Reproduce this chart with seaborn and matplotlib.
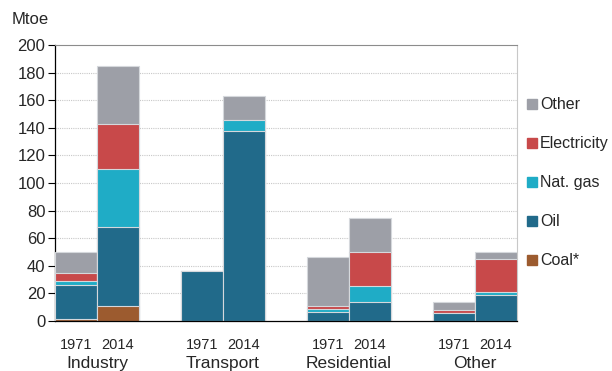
import matplotlib
matplotlib.use("Agg")
import matplotlib.pyplot as plt
from matplotlib.lines import Line2D
import numpy as np
import pandas as pd
import seaborn as sns

# Final energy consumption by sector and fuel (Mtoe)
sectors = ["Industry", "Transport", "Residential", "Other"]
years = ["1971", "2014"]
positions = [0, 1, 3, 4, 6, 7, 9, 10]

coal        = [1.2, 10.9, 0.0, 0.0, 0.0, 0.0, 0.0, 0.0]
oil         = [24.6, 57.4, 36.5, 138.0, 6.8, 14.0, 5.8, 18.6]
nat_gas     = [3.4, 41.7, 0.0, 7.7, 1.7, 11.4, 0.0, 2.4]
electricity = [5.3, 33.0, 0.0, 0.0, 2.6, 24.8, 2.4, 23.7]
other       = [15.5, 41.8, 0.0, 17.3, 35.1, 24.4, 5.8, 5.5]

fuel_names = ["Coal*", "Oil", "Nat. gas", "Electricity", "Other"]
fuel_values = [coal, oil, nat_gas, electricity, other]
fuel_colors = ["#9C5B2F", "#216A8A", "#1FACC6", "#C8494A", "#9D9FA7"]

sns.set_theme(style="white")
plt.rcParams["font.family"] = ["Liberation Sans", "DejaVu Sans"]

fig = plt.figure(figsize=(6.12, 3.71), dpi=100)
ax = fig.add_axes([55 / 612, 50 / 371, 462 / 612, 276 / 371])

# Stack by drawing cumulative totals, tallest first
cum = np.cumsum(np.array(fuel_values), axis=0)
for i in range(len(fuel_names) - 1, -1, -1):
    df = pd.DataFrame({"pos": positions, "value": cum[i]})
    sns.barplot(data=df, x="pos", y="value", native_scale=True, width=1.0,
                color=fuel_colors[i], saturation=1, edgecolor="#D5D8DC",
                linewidth=0.8, ax=ax, zorder=3, errorbar=None)

ax.set_xlim(-0.5, 10.5)
ax.set_ylim(0, 200)
ax.set_yticks(np.arange(0, 201, 20))
ax.tick_params(axis="y", labelsize=12, length=5, width=0.8, color="black",
               direction="out", pad=2, left=True)
ax.set_xticks(positions)
ax.set_xticklabels(years * 4, fontsize=10.5)
ax.tick_params(axis="x", length=0, pad=12)
ax.set_xlabel("")
ax.set_ylabel("")

for y in range(20, 200, 20):
    ax.axhline(y, color="#C8C8C8", linewidth=0.8, linestyle=(0, (1, 1)), zorder=1)

for name, sp in ax.spines.items():
    sp.set_visible(True)
ax.spines["left"].set_color("black")
ax.spines["bottom"].set_color("black")
ax.spines["left"].set_linewidth(0.9)
ax.spines["bottom"].set_linewidth(0.9)
ax.spines["top"].set_color("#8C8C8C")
ax.spines["top"].set_linewidth(0.8)
ax.spines["right"].set_color("#C8C8C8")
ax.spines["right"].set_linewidth(0.8)
ax.spines["bottom"].set_zorder(5)

for k, s in enumerate(sectors):
    ax.text(positions[2 * k] + 0.5, -30.5, s, ha="center", va="center",
            fontsize=12.5)

fig.text(12 / 612, 1 - 20 / 371, "Mtoe", ha="left", va="center", fontsize=12)

handles = [Line2D([], [], marker="s", linestyle="none", markersize=7,
                  markerfacecolor=c, markeredgecolor=c)
           for c in fuel_colors[::-1]]
leg = fig.legend(handles, fuel_names[::-1], loc="upper left",
                 bbox_to_anchor=(520 / 612, 1 - 91 / 371), frameon=False,
                 fontsize=11.5, handlelength=0.7, handletextpad=0.15,
                 labelspacing=1.5, borderaxespad=0)

fig.savefig("out.png", dpi=100)
